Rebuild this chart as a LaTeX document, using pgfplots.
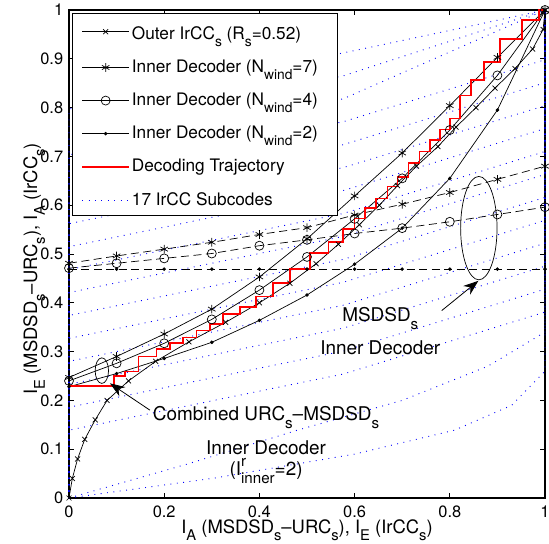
\documentclass[border=0pt]{standalone}
\usepackage{fontspec}
\setmainfont{TeX Gyre Heros}
\usepackage{graphicx}
\usepackage{pgfplots}
\pgfplotsset{compat=1.18}
\usetikzlibrary{arrows.meta}
\newcommand{\sub}[1]{\raisebox{-0.42em}{\scalebox{0.8}{#1}}}
\newcommand{\sups}[1]{\raisebox{0.45em}{\scalebox{0.8}{#1}}}
\definecolor{trajred}{rgb}{1,0,0}
\begin{document}
\fontsize{17}{20}\selectfont
\begin{tikzpicture}
\begin{axis}[
  scale only axis, width=476bp, height=488bp,
  xmin=0, xmax=1, ymin=0, ymax=1,
  clip=false,
  xtick={0,0.2,0.4,0.6,0.8,1},
  ytick={0,0.1,0.2,0.3,0.4,0.5,0.6,0.7,0.8,0.9,1},
  tick align=inside, tick pos=both,
  major tick length=5bp,
  tick style={black, line width=0.7bp},
  axis line style={line width=1.2bp},
  /pgf/number format/assume math mode=true,
  every tick label/.append style={font=\fontsize{16.5}{18}\selectfont},
  xticklabel style={yshift=-2bp},
  label style={font=\fontsize{18.5}{21}\selectfont},
  xlabel={I\sub{A} (MSDSD\sub{s}–URC\sub{s}), I\sub{E} (IrCC\sub{s})},
  ylabel={I\sub{E} (MSDSD\sub{s}–URC\sub{s}), I\sub{A} (IrCC\sub{s})},
  xlabel style={at={(axis description cs:0.5,0)}, anchor=base, yshift=-35bp},
  ylabel style={at={(axis description cs:-0.067,0.47)}, anchor=base},
  legend image code/.code={\draw[mark repeat=2,mark phase=2,#1] plot coordinates {(0bp,0bp) (23.5bp,0bp) (47bp,0bp)};},
  legend style={at={(0.006,0.994)}, anchor=north west, draw=black, line width=1bp,
    font=\fontsize{17.3}{20}\selectfont, inner xsep=9bp, inner ysep=6bp,
    row sep=14bp},
  legend cell align=left,
]
% ---- 17 IrCC subcodes (blue dotted) ----
\pgfplotsset{sub/.style={blue, line width=0.9bp, dash pattern=on 0.9bp off 5.5bp, forget plot}}
\addplot[sub] coordinates {(0,0)(0.3,0.040)(0.6,0.090)(0.81,0.139)(0.93,0.190)(1,0.260)(1,1)};
\addplot[sub] coordinates {(0,0)(0.25,0.070)(0.48,0.139)(0.7,0.200)(0.88,0.270)(1,0.340)(1,1)};
\addplot[sub] coordinates {(0,0)(0,0.139)(0.2,0.179)(0.4,0.219)(0.576,0.254)(0.8,0.321)(1,0.381)(1,1)};
\addplot[sub] coordinates {(0,0)(0,0.186)(0.2,0.226)(0.4,0.266)(0.576,0.301)(0.8,0.368)(1,0.428)(1,1)};
\addplot[sub] coordinates {(0,0)(0,0.233)(0.2,0.273)(0.4,0.313)(0.576,0.348)(0.8,0.415)(1,0.475)(1,1)};
\addplot[sub] coordinates {(0,0)(0,0.280)(0.2,0.320)(0.4,0.360)(0.576,0.395)(0.8,0.462)(1,0.522)(1,1)};
\addplot[sub] coordinates {(0,0)(0,0.327)(0.2,0.367)(0.4,0.407)(0.576,0.442)(0.8,0.509)(1,0.569)(1,1)};
\addplot[sub] coordinates {(0,0)(0,0.374)(0.2,0.414)(0.4,0.454)(0.576,0.489)(0.8,0.556)(1,0.616)(1,1)};
\addplot[sub] coordinates {(0,0)(0,0.421)(0.2,0.461)(0.4,0.501)(0.576,0.536)(0.8,0.603)(1,0.663)(1,1)};
\addplot[sub] coordinates {(0,0)(0,0.468)(0.2,0.508)(0.4,0.548)(0.576,0.583)(0.8,0.650)(1,0.710)(1,1)};
\addplot[sub] coordinates {(0,0)(0,0.515)(0.2,0.555)(0.4,0.595)(0.576,0.630)(0.8,0.697)(1,0.757)(1,1)};
\addplot[sub] coordinates {(0,0)(0,0.562)(0.2,0.602)(0.4,0.642)(0.576,0.677)(0.8,0.744)(1,0.804)(1,1)};
\addplot[sub] coordinates {(0,0)(0,0.609)(0.2,0.649)(0.4,0.689)(0.576,0.724)(0.8,0.791)(1,0.851)(1,1)};
\addplot[sub] coordinates {(0,0)(0,0.656)(0.2,0.696)(0.4,0.736)(0.576,0.771)(0.8,0.838)(1,0.898)(1,1)};
\addplot[sub] coordinates {(0,0)(0,0.703)(0.2,0.743)(0.4,0.783)(0.576,0.818)(0.8,0.914)(1,1)};
\addplot[sub] coordinates {(0,0)(0,0.750)(0.2,0.790)(0.4,0.830)(0.576,0.865)(0.8,0.936)(1,1)};
\addplot[sub] coordinates {(0,0)(0,0.797)(0.2,0.837)(0.4,0.877)(0.576,0.912)(0.8,0.958)(1,1)};
% ---- MSDSD inner decoder alone (dashed) ----
\addplot[black, line width=0.7bp, dash pattern=on 8bp off 4.5bp, mark=asterisk, mark size=4.3bp, mark options={solid}, forget plot]
 coordinates {(0,0.481)(0.1,0.496)(0.2,0.510)(0.3,0.524)(0.4,0.540)(0.5,0.554)(0.6,0.580)(0.7,0.602)(0.8,0.626)(0.9,0.653)(1,0.680)};
\addplot[black, line width=0.7bp, dash pattern=on 8bp off 4.5bp, mark=o, mark size=4.5bp, mark options={solid}, forget plot]
 coordinates {(0,0.471)(0.1,0.481)(0.2,0.491)(0.3,0.501)(0.4,0.517)(0.5,0.529)(0.6,0.542)(0.7,0.553)(0.8,0.566)(0.9,0.581)(1,0.596)};
\addplot[black, line width=0.7bp, dash pattern=on 8bp off 4.5bp, mark=*, mark size=1.4bp, mark options={solid}, forget plot]
 coordinates {(0,0.469)(0.1,0.469)(0.2,0.469)(0.3,0.469)(0.4,0.469)(0.5,0.469)(0.6,0.469)(0.7,0.469)(0.8,0.469)(0.9,0.469)(1,0.469)};
% ---- combined URC-MSDSD inner decoder (solid) ----
\addplot[black, line width=0.7bp, mark=asterisk, mark size=4.3bp, forget plot]
 coordinates {(0,0.247)(0.1,0.290)(0.2,0.336)(0.3,0.387)(0.4,0.453)(0.5,0.531)(0.6,0.619)(0.7,0.707)(0.8,0.804)(0.9,0.903)(1,1)};
\addplot[black, line width=0.7bp, mark=o, mark size=4.5bp, forget plot]
 coordinates {(0,0.240)(0.1,0.276)(0.2,0.317)(0.3,0.366)(0.4,0.426)(0.5,0.494)(0.6,0.572)(0.7,0.655)(0.8,0.754)(0.9,0.866)(1,1)};
\addplot[black, line width=0.7bp, mark=*, mark size=1.4bp, forget plot]
 coordinates {(0,0.228)(0.1,0.255)(0.2,0.286)(0.3,0.319)(0.4,0.364)(0.5,0.416)(0.6,0.479)(0.7,0.553)(0.8,0.655)(0.9,0.795)(1,1)};
% ---- outer IrCC (swapped axes) ----
\addplot[black, line width=0.7bp, mark=x, mark size=3.5bp, forget plot]
 coordinates {(0,0)(0.007,0.04)(0.018,0.08)(0.033,0.12)(0.055,0.16)(0.08,0.20)(0.125,0.24)(0.182,0.28)(0.252,0.32)(0.329,0.36)(0.40,0.40)(0.464,0.44)(0.519,0.48)(0.566,0.52)(0.61,0.56)(0.652,0.60)(0.69,0.64)(0.73,0.68)(0.775,0.72)(0.813,0.76)(0.855,0.80)(0.895,0.84)(0.937,0.88)(0.974,0.92)(0.996,0.96)(1,1)};
% ---- decoding trajectory ----
\addplot[trajred, line width=1.6bp, const plot, forget plot]
 coordinates {(0,0.229)(0.095,0.250)(0.118,0.259)(0.146,0.290)(0.184,0.305)(0.212,0.318)(0.240,0.329)(0.268,0.343)(0.296,0.357)(0.324,0.377)(0.359,0.391)(0.393,0.413)(0.429,0.440)(0.464,0.469)(0.506,0.502)(0.545,0.525)(0.575,0.551)(0.600,0.573)(0.622,0.594)(0.645,0.614)(0.669,0.638)(0.690,0.658)(0.713,0.686)(0.736,0.710)(0.758,0.734)(0.780,0.755)(0.800,0.778)(0.822,0.825)(0.845,0.857)(0.872,0.894)(0.905,0.940)(0.952,0.980)(0.988,1.0)(1,1)};
% ---- legend ----
\addlegendimage{black, line width=0.7bp, mark=x, mark size=3.5bp}
\addlegendentry{\rule{0pt}{18bp}Outer IrCC\sub{s} (R\sub{s}=0.52)}
\addlegendimage{black, line width=0.7bp, mark=asterisk, mark size=4.3bp}
\addlegendentry{Inner Decoder (N\sub{wind}=7)\hspace*{9bp}}
\addlegendimage{black, line width=0.7bp, mark=o, mark size=4.5bp}
\addlegendentry{Inner Decoder (N\sub{wind}=4)}
\addlegendimage{black, line width=0.7bp, mark=*, mark size=1.4bp}
\addlegendentry{Inner Decoder (N\sub{wind}=2)}
\addlegendimage{trajred, line width=1.6bp}
\addlegendentry{Decoding Trajectory}
\addlegendimage{blue, line width=0.9bp, dash pattern=on 0.9bp off 5.5bp}
\addlegendentry{17 IrCC Subcodes}
% ---- annotations ----
\draw[line width=0.7bp] (axis cs:0.069,0.261) ellipse [x radius=6.7bp, y radius=12.8bp];
\draw[line width=0.7bp] (axis cs:0.861,0.553) ellipse [x radius=18.2bp, y radius=51.7bp];
\draw[line width=0.8bp, -{Stealth[length=15bp, width=11bp]}] (axis cs:0.170,0.180) -- (axis cs:0.086,0.235);
\draw[line width=0.8bp, -{Stealth[length=15bp, width=11bp]}] (axis cs:0.783,0.384) -- (axis cs:0.860,0.445);
\node[font=\fontsize{19}{21}\selectfont] at (axis cs:0.654,0.368) {MSDSD\sub{s}};
\node[font=\fontsize{19}{21}\selectfont] at (axis cs:0.654,0.307) {Inner Decoder};
\node[font=\fontsize{19}{21}\selectfont] at (axis cs:0.414,0.164) {Combined URC\sub{s}–MSDSD\sub{s}};
\node[font=\fontsize{19}{21}\selectfont] at (axis cs:0.414,0.104) {Inner Decoder};
\node[font=\fontsize{19}{21}\selectfont] at (axis cs:0.414,0.055) {(I\rlap{\sups{r}}\sub{inner}=2)};
\coordinate (bl) at (rel axis cs:0,0);
\coordinate (tr) at (rel axis cs:1,1);
\end{axis}
\pgfresetboundingbox
\path ([shift={(-69bp,-46bp)}]bl) rectangle ([shift={(4bp,10bp)}]tr);
\end{tikzpicture}
\end{document}
